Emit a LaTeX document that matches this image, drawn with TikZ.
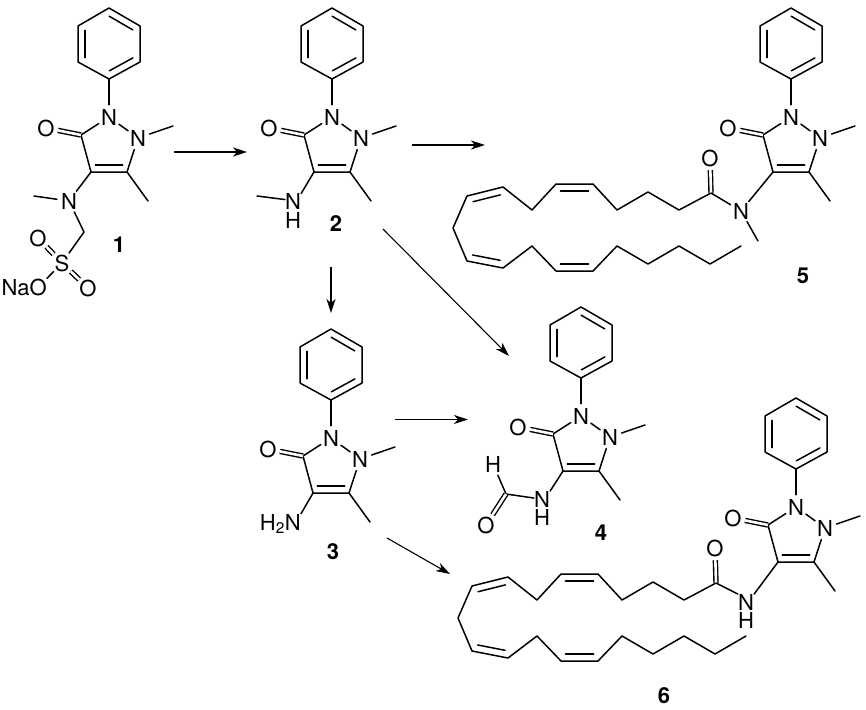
\documentclass[tikz,border=0pt]{standalone}
\usepackage{fontspec}
\setmainfont{TeX Gyre Heros}
\usetikzlibrary{arrows.meta,calc,positioning}
\newcommand{\inbond}[2]{\draw[bond] ($(#1)!.12!(#2)!7pt!90:(#2)$) -- ($(#2)!.12!(#1)!7pt!-90:(#1)$);}
\tikzset{
bond/.style={line width=1.5pt,line cap=round,line join=round},
dbond/.style={line width=1.4pt,double,double distance=2.6pt},
atom/.style={circle,minimum size=24pt,inner sep=0pt},
txt/.style={inner sep=0pt},
nh/.style={inner sep=0pt,align=center,font=\fontsize{22}{18.5}\selectfont},
num/.style={inner sep=0pt,font=\fontsize{22}{24}\selectfont\bfseries},
rxn/.style={line width=1.1pt,-{Stealth[length=14pt,width=9pt,inset=4pt]}},
core/.pic={
\node[atom] (-n1) at (0,0) {N};
\node[atom] (-n2) at (29,21) {N};
\node[atom] (-o) at (-63,11) {O};
\coordinate (-i) at (0,-38);
\coordinate (-lr) at (31,-55);
\coordinate (-ur) at (31,-91);
\coordinate (-t) at (0,-109);
\coordinate (-ul) at (-31,-91);
\coordinate (-ll) at (-31,-55);
\coordinate (-c3) at (-28,18);
\coordinate (-c4) at (-18,55);
\coordinate (-c5) at (18,55);
\coordinate (-me1) at (64,9);
\coordinate (-me2) at (39,84);
\draw[bond] (-i) -- (-lr) -- (-ur) -- (-t) -- (-ul) -- (-ll) -- cycle;
\inbond{-i}{-lr}
\inbond{-ur}{-t}
\inbond{-ul}{-ll}
\draw[bond] (-i) -- (-n1);
\draw[bond] (-n1) -- (-n2);
\draw[bond] (-n1) -- (-c3) -- (-c4) -- (-c5) -- (-n2);
\inbond{-c4}{-c5}
\draw[dbond] (-c3) -- (-o);
\draw[bond] (-n2) -- (-me1);
\draw[bond] (-c5) -- (-me2);
},
chain/.pic={
\node[atom] (-o) at (-1,-35) {O};
\coordinate (-c1) at (0,0);
\coordinate (-c2) at (-32,17);
\coordinate (-c3) at (-63,-1);
\coordinate (-c4) at (-94,17);
\coordinate (-c5) at (-118,-9);
\coordinate (-c6) at (-155,-9);
\coordinate (-c7) at (-179,17);
\coordinate (-c8) at (-208,-6);
\coordinate (-c9) at (-244,3);
\coordinate (-c10) at (-258,35);
\coordinate (-c11) at (-244,68);
\coordinate (-c12) at (-208,75);
\coordinate (-c13) at (-179,53);
\coordinate (-c14) at (-155,78);
\coordinate (-c15) at (-118,78);
\coordinate (-c16) at (-94,53);
\coordinate (-c17) at (-63,71);
\coordinate (-c18) at (-32,53);
\coordinate (-c19) at (-1,71);
\coordinate (-c20) at (30,53);
\draw[bond] (-c1) -- (-c2) -- (-c3) -- (-c4) -- (-c5) -- (-c6) -- (-c7) -- (-c8) -- (-c9) -- (-c10)
-- (-c11) -- (-c12) -- (-c13) -- (-c14) -- (-c15) -- (-c16) -- (-c17) -- (-c18) -- (-c19) -- (-c20);
\inbond{-c5}{-c6}
\inbond{-c8}{-c9}
\inbond{-c11}{-c12}
\inbond{-c14}{-c15}
\draw[dbond] (-c1) -- (-o);
}
}
\begin{document}
\begin{tikzpicture}[x=1pt,y=-1pt,every node/.append style={font=\fontsize{22}{24}\selectfont}]
\useasboundingbox (0,0) rectangle (866,709);
\pic (aone) at (109,117) {core};
\pic (atwo) at (332,117) {core};
\pic (athree) at (331,438) {core};
\pic (afour) at (581,416) {core};
\pic (afive) at (791,117) {core};
\pic (asix) at (796,507) {core};
\pic (tfive) at (711,193) {chain};
\pic (tsix) at (716,583) {chain};

\node[atom] (none) at (69,201) {N};
\coordinate (meone) at (34,196);
\coordinate (chone) at (84,232);
\node[atom] (sone) at (62,263) {S};
\node[atom] (oup) at (38,238) {O};
\node[atom] (odn) at (88,288) {O};
\node[txt,anchor=base east] (nao) at (47,295) {NaO};
\draw[bond] (aone-c4) -- (none);
\draw[bond] (none) -- (meone);
\draw[bond] (none) -- (chone) -- (sone);
\draw[dbond] (sone) -- (oup);
\draw[dbond] (sone) -- (odn);
\draw[bond] (sone) -- (nao.north east);
\node[num] (lone) at (119,245) {1};

\node[nh] (ntwo) at (293,211) {N\\H};
\coordinate (metwo) at (257,196);
\draw[bond] (atwo-c4) -- (ntwo.north east);
\draw[bond] (metwo) -- ($(ntwo.north west)+(0,6)$);
\node[num] (ltwo) at (336,224) {2};

\node[txt,anchor=base east] (nthree) at (301,530) {H\textsubscript{2}N};
\draw[bond] (athree-c4) -- (nthree.north east);
\node[num] (lthree) at (333,552) {3};

\node[nh] (nfour) at (542,508.5) {N\\H};
\coordinate (cfour) at (506,494);
\node[atom] (ofour) at (486,525) {O};
\node[atom] (hcfour) at (493,464) {H};
\draw[bond] (afour-c4) -- (nfour.north east);
\draw[bond] ($(nfour.north west)+(0,7)$) -- (cfour) -- (hcfour);
\draw[dbond] (cfour) -- (ofour);
\node[num] (lfour) at (601,533) {4};

\node[atom] (nfive) at (741,211) {N};
\coordinate (mefive) at (758,241);
\draw[bond] (tfive-c1) -- (nfive);
\draw[bond] (afive-c4) -- (nfive);
\draw[bond] (nfive) -- (mefive);
\node[num] (lfive) at (803,276) {5};

\node[nh] (nsix) at (746,611.5) {N\\H};
\draw[bond] (tsix-c1) -- (nsix.north west);
\draw[bond] (asix-c4) -- (nsix.north east);
\node[num] (lsix) at (664,696) {6};

\coordinate (ra) at (174,152);
\coordinate (rb) at (247,152);
\coordinate (rc) at (412,145);
\coordinate (rd) at (485,145);
\coordinate (re) at (331,267);
\coordinate (rf) at (331,313);
\coordinate (rg) at (383,229);
\coordinate (rh) at (509,356);
\coordinate (ri) at (395,419.5);
\coordinate (rj) at (468,419.5);
\coordinate (rk) at (387,538);
\coordinate (rl) at (450,574);
\draw[rxn] (ra) -- (rb);
\draw[rxn] (rc) -- (rd);
\draw[rxn] (re) -- (rf);
\draw[rxn] (rg) -- (rh);
\draw[rxn] (ri) -- (rj);
\draw[rxn] (rk) -- (rl);
\end{tikzpicture}
\end{document}
